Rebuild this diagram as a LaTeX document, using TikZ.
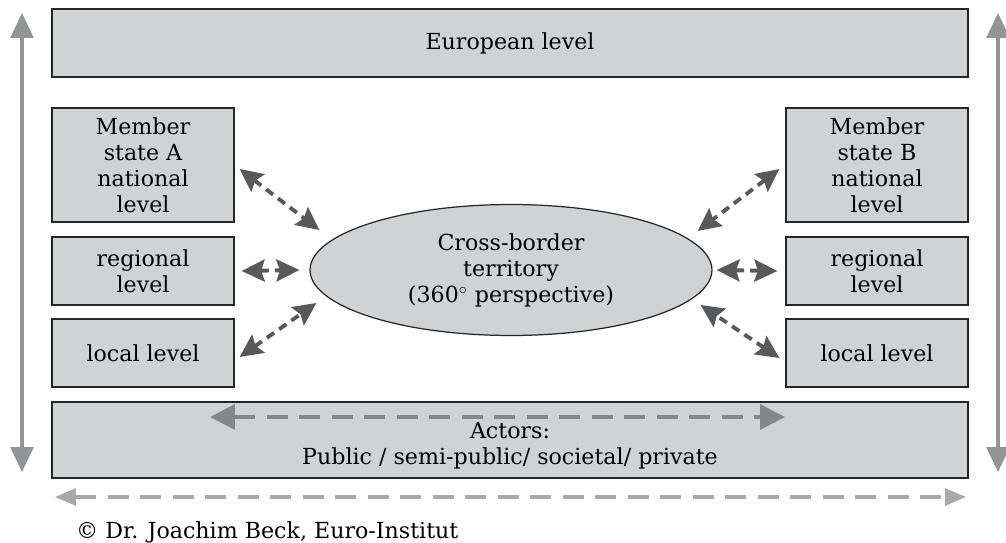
\documentclass[tikz,border=0pt]{standalone}
\usepackage{fontspec}
\setmainfont{DejaVu Serif}
\usetikzlibrary{shapes.geometric, arrows.meta, positioning}
\definecolor{boxgray}{HTML}{D1D2D4}
\definecolor{arrdark}{HTML}{58595B}
\definecolor{arrlight}{HTML}{939598}
\definecolor{dashlight}{HTML}{A7A9AC}

\begin{document}
\begin{tikzpicture}[x=0.02cm, y=-0.02cm,
  font=\fontsize{12.6}{14.8}\selectfont,
  lvl/.style={draw=black!85, line width=0.7pt, fill=boxgray, align=center, inner sep=2pt},
  darr/.style={{Stealth[length=0.46cm, width=0.44cm, inset=0.07cm]}-{Stealth[length=0.46cm, width=0.44cm, inset=0.07cm]},
    draw=arrdark, line width=2.2pt, dash pattern=on 5pt off 3.5pt},
  varr/.style={{Triangle[length=0.5cm, width=0.46cm]}-{Triangle[length=0.5cm, width=0.46cm]},
    draw=arrlight, line width=1.8pt},
  harr/.style={{Triangle[length=0.5cm, width=0.5cm]}-{Triangle[length=0.5cm, width=0.5cm]},
    draw=arrlight!90!black, line width=1.8pt, dash pattern=on 12pt off 6.5pt},
  barr/.style={{Triangle[length=0.42cm, width=0.34cm]}-{Triangle[length=0.42cm, width=0.34cm]},
    draw=dashlight, line width=1.8pt, dash pattern=on 12pt off 6.5pt}]
  \useasboundingbox (0,0) rectangle (1006,543);

  % levels
  \node [lvl, minimum width=18.32cm, minimum height=1.36cm] (europe) at (510,43) {European level};
  \node [lvl, minimum width=3.64cm, minimum height=2.28cm] (memA) at (143,165) {Member\\state A\\national\\level};
  \node [lvl, minimum width=3.64cm, minimum height=1.36cm] (regA) at (143,271) {regional\\level};
  \node [lvl, minimum width=3.64cm, minimum height=1.36cm] (locA) at (143,353) {local level};
  \node [lvl, minimum width=3.64cm, minimum height=2.28cm] (memB) at (877,165) {Member\\state B\\national\\level};
  \node [lvl, minimum width=3.64cm, minimum height=1.36cm] (regB) at (877,271) {regional\\level};
  \node [lvl, minimum width=3.64cm, minimum height=1.36cm] (locB) at (877,353) {local level};
  \node [lvl, minimum width=18.32cm, minimum height=1.52cm] (actors) at (510,440)
    {\rule{0pt}{0.54cm}Actors:\\Public / semi-public/ societal/ private};
  \node [lvl, ellipse, minimum width=8.04cm, minimum height=2.62cm, inner sep=0pt] (terr) at (511,270)
    {Cross-border\\territory\\(360$^{\circ}$ perspective)};
  \node [anchor=west] (copy) at (70,532) {\textcopyright{} Dr. Joachim Beck, Euro-Institut};

  % outer arrows
  \coordinate (lt) at (22,13);
  \coordinate (lb) at (22,472);
  \coordinate (rt) at (998,13);
  \coordinate (rb) at (998,472);
  \coordinate (bl) at (55,497);
  \coordinate (br) at (966,497);
  \draw [varr] (lt) -- (lb);
  \draw [varr] (rt) -- (rb);
  \draw [barr] (bl) -- (br);
  \draw [harr] ([shift={(-300,-23)}]actors.center) -- ([shift={(275,-23)}]actors.center);

  % links to the territory
  \draw [darr] ([shift={(5,4)}]memA.east) -- ([shift={(10,-40)}]terr.west);
  \draw [darr] ([shift={(7,0)}]regA.east) -- ([shift={(-10,0)}]terr.west);
  \draw [darr] ([shift={(5,4)}]locA.east) -- ([shift={(7,33)}]terr.west);
  \draw [darr] ([shift={(-6,4)}]memB.west) -- ([shift={(-15,-39)}]terr.east);
  \draw [darr] ([shift={(-8,0)}]regB.west) -- ([shift={(4,0)}]terr.east);
  \draw [darr] ([shift={(-6,5)}]locB.west) -- ([shift={(-12,35)}]terr.east);
\end{tikzpicture}
\end{document}
